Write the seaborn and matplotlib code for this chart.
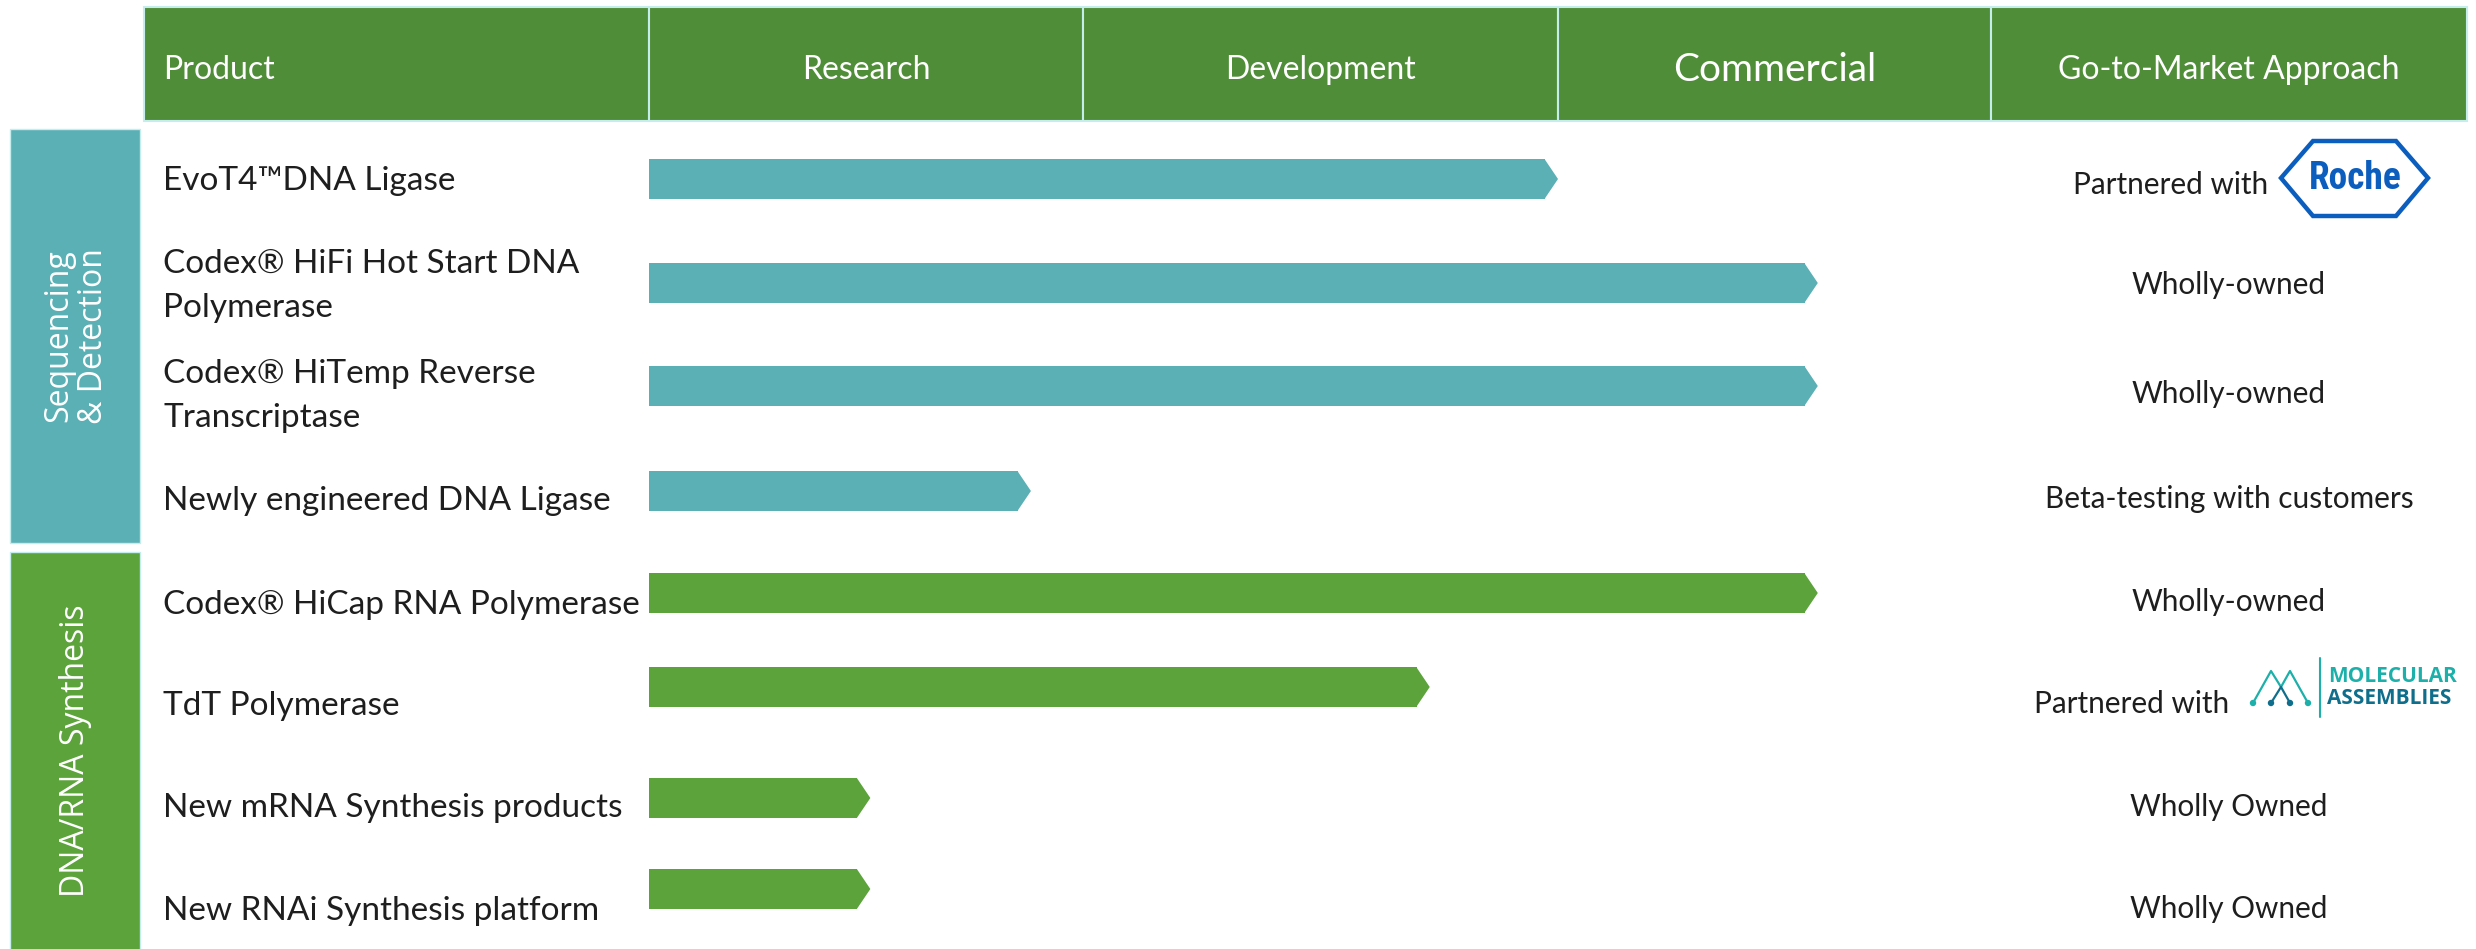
import numpy as np
import pandas as pd
import matplotlib
matplotlib.use("Agg")
import matplotlib.pyplot as plt
from matplotlib.patches import Rectangle, Polygon, Circle
from matplotlib.lines import Line2D
import seaborn as sns

# ---------------- data ----------------
header = ["Product", "Research", "Development", "Commercial", "Go-to-Market Approach"]
stages = ["Research", "Development", "Commercial"]
products = [
    "EvoT4™DNA Ligase",
    "Codex® HiFi Hot Start DNA\nPolymerase",
    "Codex® HiTemp Reverse\nTranscriptase",
    "Newly engineered DNA Ligase",
    "Codex® HiCap RNA Polymerase",
    "TdT Polymerase",
    "New mRNA Synthesis products",
    "New RNAi Synthesis platform",
]
groups = ["seq"] * 4 + ["syn"] * 4
group_labels = ["Sequencing\n& Detection", "DNA/RNA Synthesis"]
# progress in stage units: 0 = start of Research, 1 = start of Development,
# 2 = start of Commercial, 3 = end of Commercial
progress = [2.0, 2.6, 2.6, 0.88, 2.6, 1.73, 0.51, 0.51]
approach = ["Partnered with", "Wholly-owned", "Wholly-owned", "Beta-testing with customers",
            "Wholly-owned", "Partnered with", "Wholly Owned", "Wholly Owned"]
partner = ["Roche", None, None, None, None, "MOLECULAR ASSEMBLIES", None, None]

# ---------------- layout / style ----------------
W, H = 2476, 949
col_edges = [144, 649, 1083, 1558, 1991, 2467]
head_top, head_bot = 7, 121
bar_rows = [179, 283, 386, 491, 593, 687, 798, 889]
label_rows = [181, 286, 396, 501, 605, 706, 808, 911]
right_rows = [185, 285, 394, 499, 602, 704, 807, 909]
bar_h = 40
tip = 13
group_boxes = {"seq": (129, 543), "syn": (552, 960)}

HEAD_GREEN = "#508D38"
TEAL = "#5BB0B5"
GREEN = "#5CA33C"
EDGE = "#C4EDEC"
TXT = "#1E1E1E"
palette = {"seq": TEAL, "syn": GREEN}

sns.set_theme(style="white")
plt.rcParams["font.family"] = ["Lato", "DejaVu Sans"]

fig = plt.figure(figsize=(W / 100, H / 100), dpi=100)
bg = fig.add_axes([0, 0, 1, 1])
bg.set_xlim(0, W)
bg.set_ylim(H, 0)
bg.axis("off")

# header
for i, name in enumerate(header):
    x0, x1 = col_edges[i], col_edges[i + 1]
    bg.add_patch(Rectangle((x0, head_top), x1 - x0, head_bot - head_top,
                           fc=HEAD_GREEN, ec=EDGE, lw=1.5))
    size = 28 if name == "Commercial" else 23
    if i == 0:
        bg.text(163, 70, name, color="white", fontsize=size, ha="left", va="center")
    else:
        bg.text((x0 + x1) / 2, 70, name, color="white", fontsize=size, ha="center", va="center")

# group boxes
for g, lab in zip(["seq", "syn"], group_labels):
    y0, y1 = group_boxes[g]
    bg.add_patch(Rectangle((10, y0), 130, y1 - y0, fc=palette[g], ec=EDGE, lw=1))
    bg.text(76, (y0 + min(y1, H)) / 2, lab, rotation=90, color="white", fontsize=23,
            ha="center", va="center", multialignment="center", family=["Open Sans", "DejaVu Sans"],
            linespacing=1.05)

# product labels
for lab, y in zip(products, label_rows):
    bg.text(163, y, lab, fontsize=24, color=TXT, ha="left", va="center",
            fontweight="normal", linespacing=1.6)

# bars through seaborn on an axes whose x origin is the Research column start
stage_px = np.array(col_edges[1:5]) - col_edges[1]
bax = fig.add_axes([col_edges[1] / W, 0, (col_edges[4] - col_edges[1]) / W, 1])
bax.patch.set_alpha(0)
ends = np.interp(progress, np.arange(len(stage_px)), stage_px) - tip
df = pd.DataFrame({"end": ends, "row": bar_rows, "group": groups})
sns.barplot(data=df, x="end", y="row", hue="group", palette=palette, orient="y",
            native_scale=True, dodge=False, width=bar_h / np.min(np.diff(bar_rows)),
            errorbar=None, legend=False, saturation=1, linewidth=0, ax=bax)
for p in list(bax.patches):
    x0, y0, w, h = p.get_x(), p.get_y(), p.get_width(), p.get_height()
    bax.add_patch(Polygon([(x0 + w - 0.5, y0), (x0 + w + tip, y0 + h / 2), (x0 + w - 0.5, y0 + h)],
                          closed=True, fc=p.get_facecolor(), ec="none"))
bax.set_xlim(0, col_edges[4] - col_edges[1])
bax.set_ylim(H, 0)
bax.axis("off")

# go-to-market column
cx = (col_edges[4] + col_edges[5]) / 2
for txt, pt, y in zip(approach, partner, right_rows):
    if pt is None:
        bg.text(cx, y, txt, fontsize=21.4, color=TXT, ha="center", va="center")
    elif pt == "Roche":
        bg.text(2268, y, txt, fontsize=21.4, color=TXT, ha="right", va="center")
        ly = y - 7
        hexa = [(2281, ly), (2313, ly - 37), (2396, ly - 37), (2428, ly), (2396, ly + 38), (2313, ly + 38)]
        bg.add_patch(Polygon(hexa, closed=True, fc="none", ec="#0B5EBE", lw=3.2))
        bg.text(2355, ly, "Roche", fontsize=27, color="#0B5EBE", fontweight="bold",
                ha="center", va="center", family=["Roboto Condensed", "Roboto", "DejaVu Sans"])
    else:
        bg.text(2229, y, txt, fontsize=21.4, color=TXT, ha="right", va="center")
        ly = y - 2
        mc, dc = "#1DB0AA", "#0F6E8C"
        bg.add_line(Line2D([2253, 2271, 2281, 2290, 2308], [ly + 1, ly - 31, ly - 15, ly - 31, ly + 1],
                           color=mc, lw=1.6))
        bg.add_line(Line2D([2271, 2281, 2290], [ly + 1, ly - 15, ly + 1], color=dc, lw=1.6))
        for xx, cc in zip([2253, 2271, 2290, 2308], [mc, dc, dc, mc]):
            bg.add_patch(Circle((xx, ly + 1), 3.2, fc=cc, ec="none"))
        bg.add_line(Line2D([2320, 2320], [ly - 44, ly + 15], color=mc, lw=1.5))
        w2 = pt.split()
        bg.text(2328, ly - 25, w2[0], fontsize=15, color=mc, fontweight="bold", ha="left",
                va="center", family=["Open Sans", "DejaVu Sans"])
        bg.text(2327, ly - 3, w2[1], fontsize=15, color=dc, fontweight="bold", ha="left",
                va="center", family=["Open Sans", "DejaVu Sans"])

fig.savefig("out.png", dpi=100, facecolor="white")
